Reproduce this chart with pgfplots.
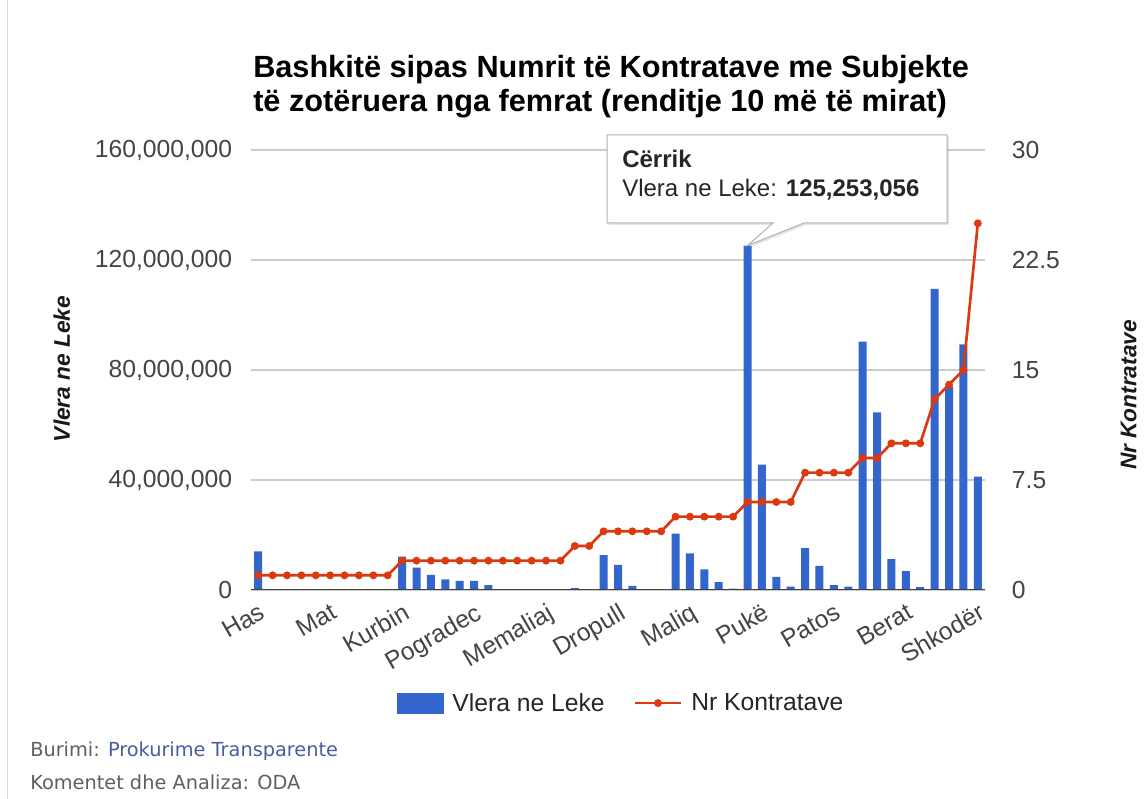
\documentclass[border=0pt]{standalone}
\usepackage{pgfplots}
\pgfplotsset{compat=1.18}
\usepackage{pgfplotstable}
\usepackage{fontspec}
\setmainfont{Liberation Sans}
\newfontfamily\verd{DejaVu Sans}
\usetikzlibrary{shadows}
\definecolor{barblue}{HTML}{3366CC}
\definecolor{linered}{HTML}{DC3912}
\definecolor{ticktext}{HTML}{444444}
\definecolor{gridc}{HTML}{CCCCCC}
\definecolor{srcblue}{HTML}{4A5E9E}
\definecolor{footgray}{HTML}{5F5F5F}

\pgfplotstableread{
idx val nr
0 14000000 1
1 0 1
2 0 1
3 0 1
4 0 1
5 0 1
6 0 1
7 0 1
8 0 1
9 0 1
10 12100000 2
11 8100000 2
12 5500000 2
13 3900000 2
14 3300000 2
15 3300000 2
16 1800000 2
17 0 2
18 0 2
19 0 2
20 0 2
21 0 2
22 700000 3
23 0 3
24 12700000 4
25 9100000 4
26 1500000 4
27 300000 4
28 300000 4
29 20500000 5
30 13300000 5
31 7500000 5
32 2900000 5
33 500000 5
34 125253056 6
35 45600000 6
36 4800000 6
37 1200000 6
38 15200000 8
39 8800000 8
40 1800000 8
41 1200000 8
42 90300000 9
43 64600000 9
44 11200000 10
45 6900000 10
46 1000000 10
47 109500000 13
48 74000000 14
49 89300000 15
50 41200000 25
}\datatable

\begin{document}
\begin{tikzpicture}
\useasboundingbox (0,0) rectangle (859.5pt,599.25pt);
\fill[white] (0,0) rectangle (859.5pt,599.25pt);
\draw[black!15, line width=1pt] (5.5pt,0) -- (5.5pt,599.25pt);

\begin{axis}[
  at={(188.25pt,156.75pt)}, anchor=south west,
  scale only axis, width=550.5pt, height=330pt,
  xmin=-0.5, xmax=50.5, ymin=0, ymax=160000000,
  axis x line*=bottom, axis y line*=left,
  axis line style={draw=none},
  major tick length=0pt,
  scaled y ticks=false,
  ytick={0,40000000,80000000,120000000,160000000},
  yticklabels={0,{40,000,000},{80,000,000},{120,000,000},{160,000,000}},
  xtick={0,5,...,50},
  xticklabels={Has,Mat,Kurbin,Pogradec,Memaliaj,Dropull,Maliq,Pukë,Patos,Berat,Shkodër},
  ymajorgrids, grid style={gridc, line width=1pt},
  tick label style={font=\fontsize{18.5}{20}\selectfont, text=ticktext, inner sep=0pt},
  yticklabel style={anchor=east},
  yticklabel shift=14pt,
  xticklabel style={rotate=30, anchor=north east},
  xticklabel shift=9pt,
  ybar, bar width=6pt,
]
\addplot[fill=barblue, draw=none] table[x=idx,y=val]{\datatable};
\draw[black!75, line width=1.5pt] (rel axis cs:0,0) -- (rel axis cs:1,0);
\coordinate (tip) at (axis cs:34,125253056);
\end{axis}

\begin{axis}[
  at={(188.25pt,156.75pt)}, anchor=south west,
  scale only axis, width=550.5pt, height=330pt,
  xmin=-0.5, xmax=50.5, ymin=0, ymax=30,
  axis y line*=right, axis x line=none,
  axis line style={draw=none},
  major tick length=0pt,
  ytick={0,7.5,15,22.5,30},
  yticklabels={0,7.5,15,22.5,30},
  tick label style={font=\fontsize{18.5}{20}\selectfont, text=ticktext, inner sep=0pt},
  yticklabel style={anchor=west},
  yticklabel shift=20pt,
  legend style={draw=none, fill=none, at={(0.505,-0.257)}, anchor=center,
    legend columns=2, font=\fontsize{18.5}{20}\selectfont, text=black!85,
    /tikz/every odd column/.append style={column sep=5pt},
    /tikz/every even column/.append style={column sep=20pt}},
]
\addlegendimage{legend image code/.code={\fill[barblue] (0pt,-7.5pt) rectangle (34pt,7.5pt);}}
\addlegendentry{Vlera ne Leke}
\addplot[linered, line width=2pt, mark=*, mark size=1.9pt, mark options={solid,fill=linered},
  legend image code/.code={\draw[linered, line width=2pt] (0pt,0pt) -- (34pt,0pt); \fill[linered] (17pt,0pt) circle (1.9pt);}]
  table[x=idx,y=nr]{\datatable};
\addlegendentry{Nr Kontratave}
\end{axis}

% titles
\node[anchor=base west, inner sep=0pt, font=\bfseries\fontsize{23}{26}\selectfont] at (189.75pt,540.75pt) {Bashkitë sipas Numrit të Kontratave me Subjekte};
\node[anchor=base west, inner sep=0pt, font=\bfseries\fontsize{23}{26}\selectfont] at (189.75pt,515.25pt) {të zotëruera nga femrat (renditje 10 më të mirat)};

% axis titles
\node[rotate=90, inner sep=0pt, font=\bfseries\itshape\fontsize{17}{20}\selectfont, text=black!90] at (46.3pt,322.5pt) {Vlera ne Leke};
\node[rotate=90, inner sep=0pt, font=\bfseries\itshape\fontsize{17}{20}\selectfont, text=black!90] at (846.5pt,303pt) {Nr Kontratave};

% tooltip
\path[draw=black!30, fill=white, line width=0.75pt, drop shadow={opacity=0.2, shadow xshift=1.5pt, shadow yshift=-1.5pt}]
  (455.25pt,498pt) -- (710.25pt,498pt) -- (710.25pt,432pt) -- (603pt,432pt) -- (tip) -- (579.75pt,432pt) -- (455.25pt,432pt) -- cycle;
\node[anchor=base west, inner sep=0pt, font=\bfseries\fontsize{18}{20}\selectfont, text=black!85] at (466.5pt,473.25pt) {Cërrik};
\node[anchor=base west, inner sep=0pt, font=\fontsize{18}{20}\selectfont, text=black!85] at (466.5pt,452pt) {Vlera ne Leke: \textbf{125,253,056}};

% footer
\node[anchor=base west, inner sep=0pt, font=\verd\fontsize{14.5}{16}\selectfont, text=footgray] at (22.5pt,31.5pt) {Burimi: \textcolor{srcblue}{Prokurime Transparente}};
\node[anchor=base west, inner sep=0pt, font=\verd\fontsize{14.5}{16}\selectfont, text=footgray] at (22.5pt,6.75pt) {Komentet dhe Analiza: ODA};
\end{tikzpicture}
\end{document}
